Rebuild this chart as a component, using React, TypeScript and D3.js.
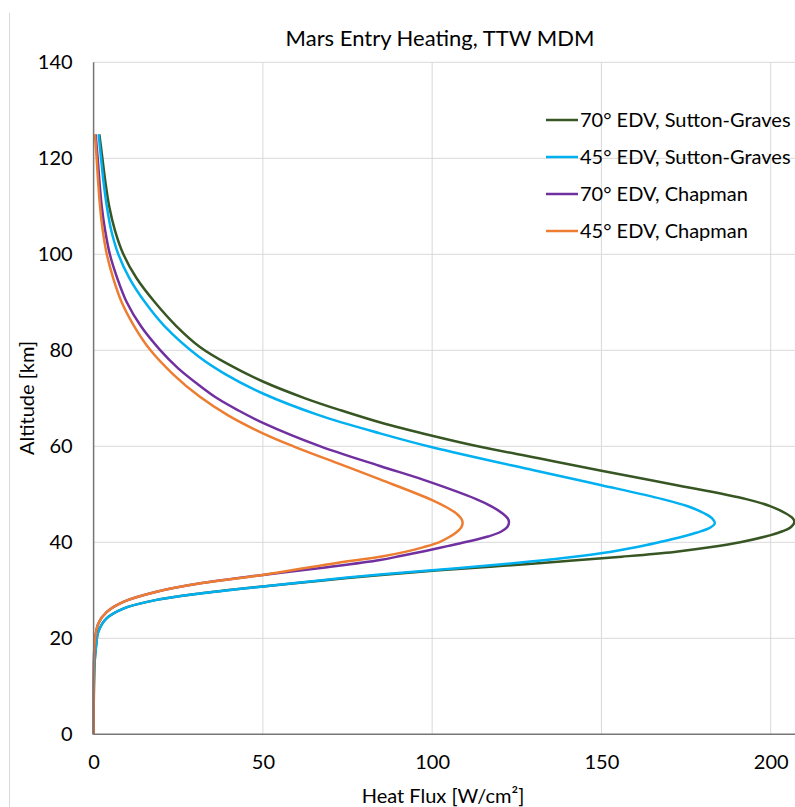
import React, { useEffect, useRef } from 'react';
import * as d3 from 'd3';

// [altitude km, heat flux W/cm²], ordered along the trajectory (high -> low altitude)
const sg70: [number, number][] = [
  [125, 1.7], [120, 2.6], [115, 3.5], [110, 4.6], [105, 6.3], [100, 8.8], [95, 12.7],
  [90, 18.1], [85, 24.5], [80.7, 31.4], [77, 40], [73.5, 50], [70, 62.5], [67.5, 73],
  [64.9, 85], [62.2, 100], [60, 113.5], [57.5, 131.5], [54.9, 150], [52, 171.5], [49, 192.8],
  [47.5, 200], [46, 204.5], [45, 206.5], [44.2, 207], [43.2, 206], [42.3, 203.5],
  [41.5, 200], [40, 191], [39, 182.5], [38, 171.5], [37, 156], [36, 138], [35, 119],
  [34.1, 101], [33.2, 85], [32, 67], [30.8, 50], [29.3, 31], [28, 18.6], [26.2, 8.8],
  [24.2, 3.9], [21.4, 1.4], [18.2, 0.7], [15, 0.3], [10, 0.1], [5, 0.03], [0, 0],
];

const sg45: [number, number][] = [
  [125, 1.5], [120, 2.2], [115, 2.95], [110, 3.9], [105, 5.2], [100, 7.3], [95, 10.6],
  [90, 15.2], [85, 21], [78.5, 31.4], [75, 39], [71, 50], [66.5, 66.5], [62.7, 84.6],
  [59.8, 100], [55, 130], [51.9, 150], [49, 168], [47.5, 175.5], [46, 180.5], [45, 182.7],
  [44, 183.5], [43, 182], [42, 178], [41, 173], [40, 167], [39, 160.5], [38, 152.5],
  [37, 142], [36, 129], [35, 114], [34.2, 100], [33.3, 84.6], [32, 66], [30.8, 50],
  [29.3, 31], [28, 18.6], [26.2, 8.8], [24.2, 3.9], [21.4, 1.4], [18.2, 0.7], [15, 0.3],
  [10, 0.1], [5, 0.03], [0, 0],
];

const ch70: [number, number][] = [
  [125, 0.6], [120, 1.2], [115, 1.75], [110, 2.4], [105, 3.4], [100, 4.8], [95, 7],
  [90, 9.8], [85, 14], [80.1, 19.6], [76.3, 24.9], [72.6, 31.4], [70, 36.5], [67.5, 42.7],
  [64.9, 50], [60, 67], [55.9, 84.6], [53, 97.5], [49, 113], [47.5, 117.5], [46, 120.8],
  [45, 122.3], [44.2, 122.7], [43.2, 122.2], [42.2, 120.3], [41.2, 116.5], [40.2, 111],
  [39.2, 104.5], [38.2, 98], [37.2, 91], [36.3, 84.6], [34.8, 69], [33.2, 50], [31.5, 32],
  [29.7, 18.6], [27.6, 8.8], [25.5, 3.9], [23.1, 1.4], [19.6, 0.4], [15.5, 0.1], [10, 0.03],
  [5, 0.01], [0, 0],
];

const ch45: [number, number][] = [
  [125, 0.4], [120, 0.9], [115, 1.35], [110, 1.9], [105, 2.7], [100, 3.9], [95, 5.8],
  [90, 8.3], [85, 12], [80.1, 16.7], [75, 23.5], [70.3, 31.4], [66.5, 39.6], [62.7, 50],
  [60, 59], [56.5, 72], [53.1, 84.6], [48.8, 100], [47.2, 104.5], [45.8, 107.5],
  [44.8, 108.7], [44, 109], [43, 108.5], [42, 107], [41, 104.8], [40, 102], [39, 97.5],
  [38, 92], [37.1, 85.5], [35.5, 70], [33.2, 50], [31.5, 32], [29.7, 18.6], [27.6, 8.8],
  [25.5, 3.9], [23.1, 1.4], [19.6, 0.4], [15.5, 0.1], [10, 0.03], [5, 0.01], [0, 0],
];

const seriesNames = [
  '70° EDV, Sutton-Graves',
  '45° EDV, Sutton-Graves',
  '70° EDV, Chapman',
  '45° EDV, Chapman',
];
const seriesColors = ['#375623', '#00B0F0', '#7030A0', '#ED7D31'];
const seriesData = [sg70, sg45, ch70, ch45];

const xTicks = [0, 50, 100, 150, 200];
const yTicks = [0, 20, 40, 60, 80, 100, 120, 140];

const W = 795;
const H = 807;
const FONT = 'Lato, "Open Sans", sans-serif';

const App = () => {
  const svgRef = useRef<SVGSVGElement>(null);

  useEffect(() => {
    const svg = d3.select(svgRef.current);
    svg.selectAll('*').remove();

    const x = d3.scaleLinear().domain([0, 200]).range([93.6, 770.7]);
    const y = d3.scaleLinear().domain([0, 140]).range([734.3, 62.3]);

    // chart area border (left edge only visible)
    svg.append('line')
      .attr('x1', 9.5).attr('x2', 9.5).attr('y1', 13).attr('y2', H)
      .attr('stroke', '#d9d9d9').attr('stroke-width', 1);

    // gridlines
    svg.append('g')
      .selectAll('line')
      .data(xTicks.filter(d => d > 0))
      .join('line')
      .attr('x1', d => x(d)).attr('x2', d => x(d))
      .attr('y1', y(0)).attr('y2', y(140))
      .attr('stroke', '#d9d9d9').attr('stroke-width', 1);

    svg.append('g')
      .selectAll('line')
      .data(yTicks.filter(d => d > 0))
      .join('line')
      .attr('x1', x(0)).attr('x2', W)
      .attr('y1', d => y(d)).attr('y2', d => y(d))
      .attr('stroke', '#d9d9d9').attr('stroke-width', 1);

    // axes
    const xAxis = d3.axisBottom(x).tickValues(xTicks).tickSize(0).tickPadding(21);
    svg.append('g')
      .attr('transform', `translate(0, ${y(0)})`)
      .call(xAxis)
      .call(g => g.select('.domain').remove())
      .call(g => g.selectAll('text')
        .attr('font-family', FONT).attr('font-size', 20).attr('fill', '#000'));

    const yAxis = d3.axisLeft(y).tickValues(yTicks).tickSize(0).tickPadding(21);
    svg.append('g')
      .attr('transform', `translate(${x(0)}, 0)`)
      .call(yAxis)
      .call(g => g.select('.domain').remove())
      .call(g => g.selectAll('text')
        .attr('font-family', FONT).attr('font-size', 20).attr('fill', '#000'));

    // series
    const line = d3.line<[number, number]>()
      .x(d => x(d[1]))
      .y(d => y(d[0]))
      .curve(d3.curveCatmullRom.alpha(0.5));

    svg.append('g')
      .selectAll('path')
      .data(seriesData)
      .join('path')
      .attr('d', d => line(d))
      .attr('fill', 'none')
      .attr('stroke', (_, i) => seriesColors[i])
      .attr('stroke-width', 2.5)
      .attr('stroke-linejoin', 'round');

    // axis lines drawn over the grid
    svg.append('line')
      .attr('x1', x(0)).attr('x2', x(0)).attr('y1', y(140)).attr('y2', y(0))
      .attr('stroke', '#767676').attr('stroke-width', 1.5);
    svg.append('line')
      .attr('x1', x(0)).attr('x2', W).attr('y1', y(0)).attr('y2', y(0))
      .attr('stroke', '#767676').attr('stroke-width', 1.5);

    // title
    svg.append('text')
      .attr('x', 440).attr('y', 46)
      .attr('text-anchor', 'middle')
      .attr('font-family', FONT).attr('font-size', 22)
      .text('Mars Entry Heating, TTW MDM');

    // axis titles
    svg.append('text')
      .attr('x', 443).attr('y', 803)
      .attr('text-anchor', 'middle')
      .attr('font-family', FONT).attr('font-size', 20)
      .text('Heat Flux [W/cm²]');

    svg.append('text')
      .attr('transform', `translate(34, 398) rotate(-90)`)
      .attr('text-anchor', 'middle')
      .attr('font-family', FONT).attr('font-size', 20)
      .text('Altitude [km]');

    // legend
    const legend = svg.append('g');
    const rows = legend.selectAll('g')
      .data(seriesNames)
      .join('g')
      .attr('transform', (_, i) => `translate(546, ${120 + i * 37})`);
    rows.append('line')
      .attr('x1', 0).attr('x2', 32).attr('y1', 0).attr('y2', 0)
      .attr('stroke', (_, i) => seriesColors[i])
      .attr('stroke-width', 2.5);
    rows.append('text')
      .attr('x', 34).attr('y', 0).attr('dy', '0.35em')
      .attr('font-family', FONT).attr('font-size', 20)
      .text(d => d);
  }, []);

  return (
    <svg
      ref={svgRef}
      width={W}
      height={H}
      style={{ position: 'absolute', left: 0, top: 0, background: '#fff' }}
    />
  );
};

export default App;
